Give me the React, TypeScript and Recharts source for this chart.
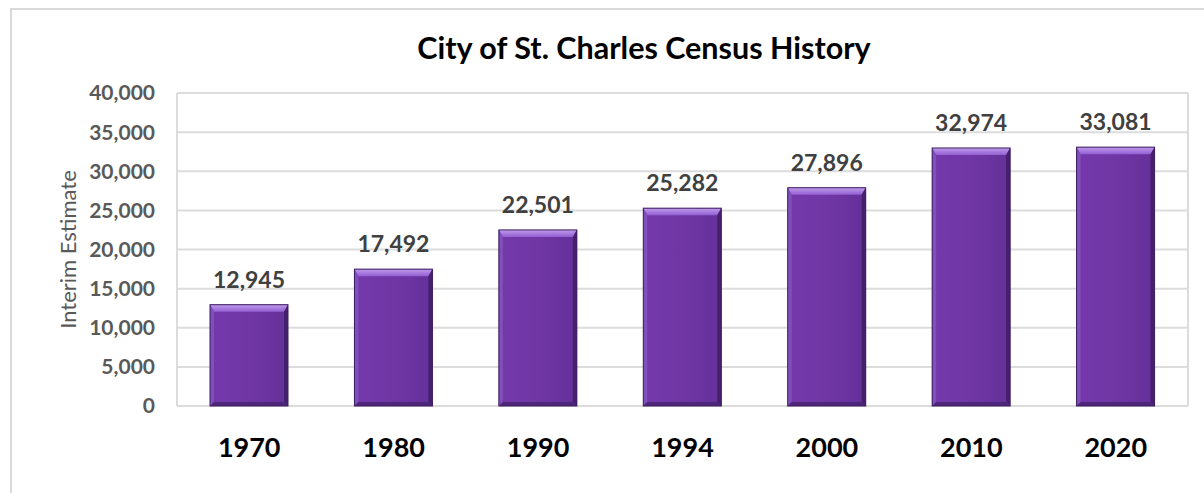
import { BarChart, Bar, XAxis, YAxis, CartesianGrid, LabelList } from "recharts";

const years = ["1970", "1980", "1990", "1994", "2000", "2010", "2020"];
const population = [12945, 17492, 22501, 25282, 27896, 32974, 33081];
const yTicks = [0, 5000, 10000, 15000, 20000, 25000, 30000, 35000, 40000];

const data = years.map((year, i) => ({ year, population: population[i] }));

const FONT = "Lato, 'Open Sans', sans-serif";
const fmt = (v: number) => v.toLocaleString("en-US");

// bevelled purple column, like the Excel "Angle" shape effect
function BevelBar(props: any) {
  const { x, y, width: w, height: h } = props;
  if (!h || h <= 0) return null;
  const t = 7; // top bevel
  const s = 4; // side bevel
  const b = 4; // bottom bevel
  return (
    <g>
      <rect x={x} y={y} width={w} height={h} fill="url(#barFace)" />
      <polygon points={`${x},${y} ${x + w},${y} ${x + w - s},${y + t} ${x + s},${y + t}`} fill="url(#barTop)" />
      <polygon points={`${x},${y} ${x + s},${y + t} ${x + s},${y + h - b} ${x},${y + h}`} fill="#7f4fbb" />
      <polygon points={`${x + w},${y} ${x + w},${y + h} ${x + w - s},${y + h - b} ${x + w - s},${y + t}`} fill="#45206c" />
      <polygon points={`${x},${y + h} ${x + s},${y + h - b} ${x + w - s},${y + h - b} ${x + w},${y + h}`} fill="#4e2679" />
      <rect x={x} y={y} width={w} height={h} fill="none" stroke="#3e1c62" strokeWidth={1} />
    </g>
  );
}

function YLabel(props: any) {
  const vb = props.viewBox || {};
  const cx = vb.x + 27;
  const cy = vb.y + vb.height / 2;
  return (
    <text
      x={cx}
      y={cy}
      transform={`rotate(-90 ${cx} ${cy})`}
      textAnchor="middle"
      dominantBaseline="central"
      fontFamily={FONT}
      fontSize={22}
      fill="#595959"
    >
      Interim Estimate
    </text>
  );
}

export default function App() {
  return (
    <div style={{ position: "absolute", left: 0, top: 0, width: 1204, height: 493, overflow: "hidden", background: "#fff" }}>
      <div
        style={{
          position: "absolute",
          left: 10,
          top: 8,
          width: 1240,
          height: 540,
          border: "2px solid #d9d9d9",
        }}
      />
      <div
        style={{
          position: "absolute",
          left: 644,
          top: 29,
          transform: "translateX(-50%)",
          whiteSpace: "nowrap",
          fontFamily: FONT,
          fontWeight: 700,
          fontSize: 30.5,
          lineHeight: 1.2,
          color: "#000",
        }}
      >
        City of St. Charles Census History
      </div>
      <div style={{ position: "absolute", left: 0, top: 0 }}>
        <BarChart
          width={1204}
          height={493}
          data={data}
          margin={{ top: 93, right: 16, bottom: 27, left: 40 }}
        >
          <defs>
            <linearGradient id="barFace" x1="0" y1="0" x2="1" y2="0">
              <stop offset="0%" stopColor="#7538ab" />
              <stop offset="50%" stopColor="#6f37a4" />
              <stop offset="100%" stopColor="#65309a" />
            </linearGradient>
            <linearGradient id="barTop" x1="0" y1="0" x2="0" y2="1">
              <stop offset="0%" stopColor="#bf9ce9" />
              <stop offset="100%" stopColor="#935fd3" />
            </linearGradient>
          </defs>
          <CartesianGrid
            stroke="#dcdcdc"
            strokeWidth={2}
            verticalCoordinatesGenerator={({ offset }: any) => [offset.left, offset.left + offset.width]}
          />
          <XAxis
            dataKey="year"
            axisLine={false}
            tickLine={false}
            height={60}
            tickMargin={26}
            tick={{ fill: "#000", fontSize: 27, fontWeight: 700, fontFamily: FONT }}
          />
          <YAxis
            width={137}
            domain={[0, 40000]}
            ticks={yTicks}
            tickFormatter={fmt}
            axisLine={false}
            tickLine={false}
            tickMargin={16}
            interval={0}
            tick={{ fill: "#595959", fontSize: 21, fontWeight: 700, fontFamily: FONT }}
            label={(p: any) => <YLabel {...p} />}
          />
          <Bar dataKey="population" barSize={78} shape={(p: any) => <BevelBar {...p} />} isAnimationActive={false}>
            <LabelList
              dataKey="population"
              position="top"
              offset={17}
              formatter={(v: any) => fmt(Number(v))}
              style={{ fill: "#404040", fontSize: 23, fontWeight: 700, fontFamily: FONT }}
            />
          </Bar>
        </BarChart>
      </div>
    </div>
  );
}
